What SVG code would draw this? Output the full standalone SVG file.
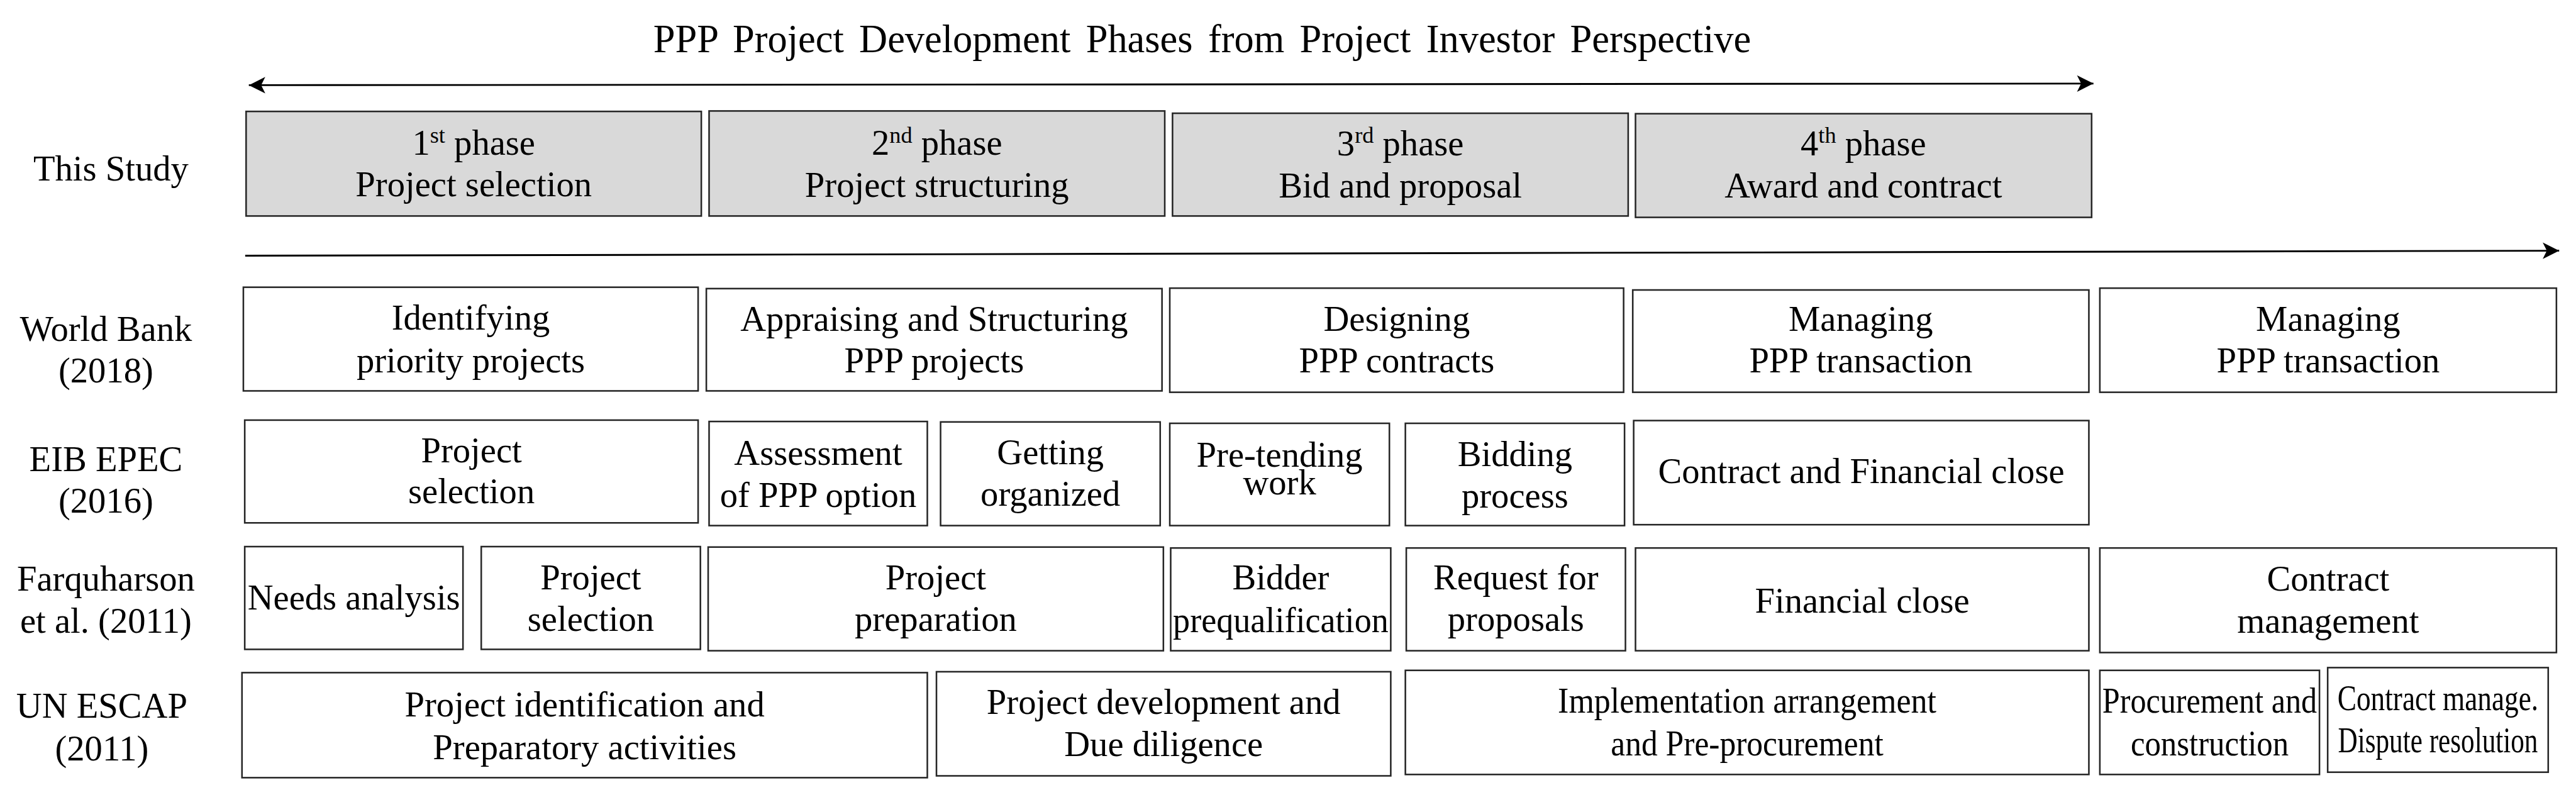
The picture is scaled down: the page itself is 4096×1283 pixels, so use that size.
<svg xmlns="http://www.w3.org/2000/svg" width="4096" height="1283" viewBox="0 0 4096 1283">
<defs>
<style>
text{font-family:"Liberation Serif","Times New Roman",serif;font-size:78px;fill:#000;text-anchor:middle}
.title{font-size:86px;word-spacing:12px}
.sup{font-size:50px}
.box{fill:#fff;stroke:#262626;stroke-width:3.5}
.phase{fill:#d9d9d9;stroke:#262626;stroke-width:3.5}
.conn{stroke:#000;stroke-width:4;fill:none}
</style>
<marker id="arr" viewBox="0 0 40 40" markerWidth="40" markerHeight="40" refX="38" refY="20" orient="auto-start-reverse" markerUnits="userSpaceOnUse">
<path d="M2,2 L38,20 L2,38 L11,20 Z" fill="#000"/>
</marker>
</defs>
<rect width="4096" height="1283" fill="#fff"/>
<g transform="scale(0.726)">
<g id="title"><text class="title" x="2633" y="114">PPP Project Development Phases from Project Investor Perspective</text></g>

<g id="connectors">
<line class="conn" x1="545" y1="186.5" x2="4585" y2="183" marker-start="url(#arr)" marker-end="url(#arr)"/>
<line class="conn" x1="537" y1="560" x2="5605" y2="549" marker-end="url(#arr)"/>
</g>

<g id="label-this-study"><text x="243" y="396">This Study</text></g>
<g id="label-world-bank"><text x="232" y="746">World Bank</text><text x="232" y="838">(2018)</text></g>
<g id="label-eib-epec"><text x="232" y="1032">EIB EPEC</text><text x="232" y="1123">(2016)</text></g>
<g id="label-farquharson"><text x="232" y="1294">Farquharson</text><text x="232" y="1386">et al. (2011)</text></g>
<g id="label-un-escap"><text x="223" y="1571">UN ESCAP</text><text x="223" y="1665">(2011)</text></g>

<g id="phase1"><rect class="phase" x="539" y="244" width="997" height="229"/><text x="1037.5" y="339">1<tspan class="sup" dy="-27">st</tspan><tspan dy="27"> phase</tspan></text><text x="1037.5" y="430">Project selection</text></g>
<g id="phase2"><rect class="phase" x="1553" y="243" width="998" height="230"/><text x="2052" y="339">2<tspan class="sup" dy="-27">nd</tspan><tspan dy="27"> phase</tspan></text><text x="2052" y="431">Project structuring</text></g>
<g id="phase3"><rect class="phase" x="2568" y="248" width="998" height="225"/><text x="3067" y="340">3<tspan class="sup" dy="-27">rd</tspan><tspan dy="27"> phase</tspan></text><text x="3067" y="433">Bid and proposal</text></g>
<g id="phase4"><rect class="phase" x="3582" y="249" width="999" height="227"/><text x="4081" y="340">4<tspan class="sup" dy="-27">th</tspan><tspan dy="27"> phase</tspan></text><text x="4081" y="432">Award and contract</text></g>

<g id="wb1"><rect class="box" x="533" y="629" width="996" height="227"/><text x="1031" y="722">Identifying</text><text x="1031" y="815">priority projects</text></g>
<g id="wb2"><rect class="box" x="1547" y="632" width="998" height="224"/><text x="2046" y="725">Appraising and Structuring</text><text x="2046" y="815">PPP projects</text></g>
<g id="wb3"><rect class="box" x="2562" y="631" width="994" height="228"/><text x="3059" y="725">Designing</text><text x="3059" y="815">PPP contracts</text></g>
<g id="wb4"><rect class="box" x="3576" y="635" width="999" height="224"/><text x="4075.5" y="725">Managing</text><text x="4075.5" y="815">PPP transaction</text></g>
<g id="wb5"><rect class="box" x="4599" y="631" width="1000" height="228"/><text x="5099" y="725">Managing</text><text x="5099" y="815">PPP transaction</text></g>

<g id="eib1"><rect class="box" x="536" y="920" width="993" height="225"/><text x="1032.5" y="1012">Project</text><text x="1032.5" y="1102">selection</text></g>
<g id="eib2"><rect class="box" x="1553" y="923" width="478" height="228"/><text x="1792" y="1018">Assessment</text><text x="1792" y="1110">of  PPP option</text></g>
<g id="eib3"><rect class="box" x="2060" y="924" width="481" height="227"/><text x="2300.5" y="1016">Getting</text><text x="2300.5" y="1108">organized</text></g>
<g id="eib4"><rect class="box" x="2562" y="927" width="481" height="224"/><text x="2802.5" y="1022">Pre-tending</text><text x="2802.5" y="1083">work</text></g>
<g id="eib5"><rect class="box" x="3078" y="927" width="480" height="224"/><text x="3318" y="1020">Bidding</text><text x="3318" y="1112">process</text></g>
<g id="eib6"><rect class="box" x="3578" y="921" width="997" height="228"/><text x="4076.5" y="1058">Contract and Financial close</text></g>

<g id="farq1"><rect class="box" x="536" y="1197" width="478" height="225"/><text x="775" y="1335">Needs analysis</text></g>
<g id="farq2"><rect class="box" x="1054" y="1197" width="480" height="225"/><text x="1294" y="1290">Project</text><text x="1294" y="1382">selection</text></g>
<g id="farq3"><rect class="box" x="1551" y="1198" width="997" height="227"/><text x="2049.5" y="1290">Project</text><text x="2049.5" y="1382">preparation</text></g>
<g id="farq4"><rect class="box" x="2564" y="1200" width="482" height="225"/><text x="2805" y="1290">Bidder</text><text x="2805" y="1384" textLength="472" lengthAdjust="spacingAndGlyphs">prequalification</text></g>
<g id="farq5"><rect class="box" x="3080" y="1200" width="480" height="225"/><text x="3320" y="1290">Request for</text><text x="3320" y="1382">proposals</text></g>
<g id="farq6"><rect class="box" x="3582" y="1200" width="993" height="225"/><text x="4078.5" y="1341">Financial close</text></g>
<g id="farq7"><rect class="box" x="4599" y="1200" width="1000" height="229"/><text x="5099" y="1294">Contract</text><text x="5099" y="1386">management</text></g>

<g id="un1"><rect class="box" x="530" y="1473" width="1501" height="230"/><text x="1280.5" y="1569">Project identification  and</text><text x="1280.5" y="1662">Preparatory activities</text></g>
<g id="un2"><rect class="box" x="2051" y="1471" width="995" height="228"/><text x="2548.5" y="1563">Project development and</text><text x="2548.5" y="1656">Due diligence</text></g>
<g id="un3"><rect class="box" x="3078" y="1468" width="1497" height="228"/><text x="3826.5" y="1561" textLength="829" lengthAdjust="spacingAndGlyphs">Implementation  arrangement</text><text x="3826.5" y="1654" textLength="597" lengthAdjust="spacingAndGlyphs">and Pre-procurement</text></g>
<g id="un4"><rect class="box" x="4599" y="1468" width="481" height="228"/><text x="4839.5" y="1561" textLength="470" lengthAdjust="spacingAndGlyphs">Procurement and</text><text x="4839.5" y="1654" textLength="346" lengthAdjust="spacingAndGlyphs">construction</text></g>
<g id="un5"><rect class="box" x="5098" y="1462" width="483" height="229"/><text transform="translate(5339.5,1555) scale(0.8,1)" x="0" y="0">Contract manage.</text><text transform="translate(5339.5,1648) scale(0.763,1)" x="0" y="0">Dispute resolution</text></g>
</g>
</svg>
